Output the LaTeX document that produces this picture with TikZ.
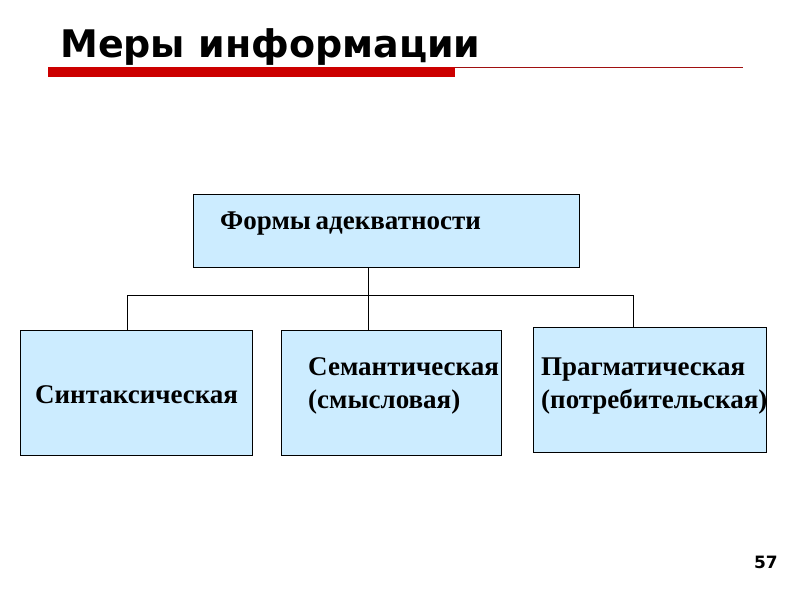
\documentclass[tikz,border=0pt]{standalone}
\usepackage{fontspec}
\setmainfont{Liberation Serif}
\newfontfamily\titlefont{DejaVu Sans}
\definecolor{boxfill}{HTML}{CCECFF}
\definecolor{barred}{HTML}{CC0000}
\definecolor{thinred}{HTML}{A01010}
\begin{document}
\begin{tikzpicture}[x=1pt,y=-1pt,
  box/.style={draw=black,line width=0.9pt,fill=boxfill,inner sep=0pt,anchor=north west},
  lbl/.style={anchor=west,inner sep=0pt,font=\fontsize{27}{33}\selectfont\bfseries,align=left},
  conn/.style={draw=black,line width=0.8pt}]
\useasboundingbox (0,0) rectangle (800,600);
% title
\node[anchor=base west,inner sep=0pt,font=\titlefont\fontsize{38}{40}\selectfont\bfseries] (title) at (60,57) {Меры информации};
\fill[barred] (48,67) rectangle (455,77);
\draw[thinred,line width=1pt] (455,67.5) -- (743,67.5);
% boxes
\node[box,minimum width=386pt,minimum height=73pt] (top) at (193,194) {};
\node[box,minimum width=232pt,minimum height=125pt] (syn) at (20,330) {};
\node[box,minimum width=220pt,minimum height=125pt] (sem) at (281,330) {};
\node[box,minimum width=233pt,minimum height=125pt] (prag) at (533,327) {};
% texts
\node[lbl,font=\fontsize{27}{33}\selectfont\bfseries] (toptext) at (220,224) {Формы\hspace{-2pt} адекватности};
\node[lbl] (syntext) at (35,395) {Синтаксическая};
\node[lbl] (semtext) at (308,386) {Семантическая\\(смысловая)};
\node[lbl] (pragtext) at (541,386) {Прагматическая\\(потребительская)};
% connectors
\coordinate (topfoot) at (368,267);
\coordinate (hl) at (127,295);
\coordinate (hr) at (633,295);
\draw[conn] (topfoot) -- (topfoot |- sem.north);
\draw[conn] (hl) -- (hr);
\draw[conn] (hl) -- (hl |- syn.north);
\draw[conn] (hr) -- (hr |- prag.north);
% page number
\node[anchor=base east,inner sep=0pt,font=\titlefont\fontsize{17}{20}\selectfont\bfseries] (num) at (778,568) {57};
\end{tikzpicture}
\end{document}
